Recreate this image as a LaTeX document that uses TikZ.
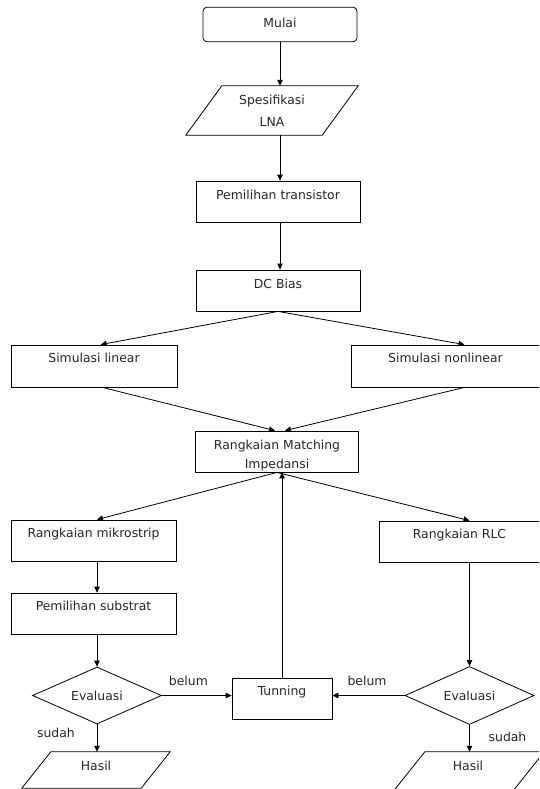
\documentclass[tikz,border=0pt]{standalone}
\usepackage{fontspec}
\setmainfont{DejaVu Sans}
\usetikzlibrary{arrows.meta,calc,shapes.geometric}
\begin{document}
\begin{tikzpicture}[x=1pt,y=-1pt,
  every node/.style={font=\fontsize{12.4}{14}\selectfont, text=black!85},
  ln/.style={draw=black, line width=0.8pt},
  arr/.style={ln, -{Triangle[length=6pt,width=5.5pt]}},
  box/.style={draw=black, line width=0.8pt, inner xsep=2pt, inner ysep=0pt,
              text height=18pt, text depth=23pt, minimum height=41pt},
  plain/.style={inner sep=0pt},
  dia/.style={draw=black, line width=0.8pt, diamond, aspect=2.3, inner sep=0pt},
  lbl/.style={inner sep=0pt, anchor=center}
]
\useasboundingbox (0,0) rectangle (539,789);
\clip (0,0) rectangle (539,789);

% nodes
\node[draw=black, line width=0.8pt, rounded corners=4pt, inner sep=0pt,
      minimum width=154pt, text height=20pt, text depth=14.5pt] (mulai) at (280,24.5) {Mulai};
\node[plain, minimum width=136pt, minimum height=49pt, align=center,
      font=\fontsize{12.4}{22}\selectfont] (spec) at (272,110.5) {Spesifikasi\\LNA};
\node[box, minimum width=164pt] (pem) at (278,201.5) {Pemilihan transistor};
\node[box, minimum width=164pt] (dc) at (278,290.5) {DC Bias};
\node[box, minimum width=166pt, text height=17pt, text depth=25pt] (simlin) at (94,366) {Simulasi linear};
\node[box, minimum width=189pt, text height=17pt, text depth=25pt] (simnl) at (445.5,366) {Simulasi nonlinear};
\node[draw=black, line width=0.8pt, minimum width=163pt, minimum height=41pt, inner sep=0pt,
      align=center, font=\fontsize{12.4}{19}\selectfont] (match) at (277,451.5)
      {\rule{0pt}{17pt}Rangkaian Matching\\Impedansi};
\node[box, minimum width=165pt, text height=17pt, text depth=24pt] (mikro) at (93.5,540.5) {Rangkaian mikrostrip};
\node[box, minimum width=161pt, text height=17.5pt, text depth=23.5pt] (rlc) at (459.5,541.5) {Rangkaian RLC};
\node[box, minimum width=165pt, text height=17.5pt, text depth=23.5pt] (subs) at (93.5,613.5) {Pemilihan substrat};
\node[box, minimum width=100pt, text height=17.5pt, text depth=23.5pt] (tun) at (282,698.5) {Tunning};
\node[dia, minimum width=129pt, minimum height=57pt] (evalL) at (97,695.5) {Evaluasi};
\node[dia, minimum width=129pt, minimum height=58pt] (evalR) at (469.5,695.5) {Evaluasi};
\node[plain, minimum width=119pt, text height=18pt, text depth=18pt] (hasilL) at (96,770) {Hasil};
\node[plain, minimum width=119pt, text height=18pt, text depth=23pt] (hasilR) at (468,772.5) {Hasil};

% parallelograms
\draw[ln] ($(spec.north west)+(18,0)$) -- ($(spec.north east)+(18,0)$)
       -- ($(spec.south east)+(-18,0)$) -- ($(spec.south west)+(-18,0)$) -- cycle;
\draw[ln] ($(hasilL.north west)+(14.5,0)$) -- ($(hasilL.north east)+(14.5,0)$)
       -- ($(hasilL.south east)+(-14.5,0)$) -- ($(hasilL.south west)+(-14.5,0)$) -- cycle;
\draw[ln] ($(hasilR.north west)+(16.5,0)$) -- ($(hasilR.north east)+(16.5,0)$)
       -- ($(hasilR.south east)+(-16.5,0)$) -- ($(hasilR.south west)+(-16.5,0)$) -- cycle;

% connectors
\draw[arr] (mulai.south) -- (mulai.south |- spec.north);
\draw[arr] (mulai.south |- spec.south) -- (mulai.south |- pem.north);
\draw[arr] (mulai.south |- pem.south) -- (mulai.south |- dc.north);
\draw[arr] (dc.south) -- ($(simlin.north west)!0.54!(simlin.north east)$);
\draw[arr] (dc.south) -- ($(simnl.north west)!0.6!(simnl.north east)$);
\draw[arr] ($(simlin.south west)!0.55!(simlin.south east)$) -- ([xshift=-2pt]match.north);
\draw[arr] ($(simnl.south west)!0.6!(simnl.south east)$) -- ([xshift=8pt]match.north);
\draw[arr] (match.south) -- (evalL.north |- mikro.north);
\draw[arr] (match.south) -- (evalR.north |- rlc.north);
\draw[arr] (evalL.north |- mikro.south) -- (evalL.north |- subs.north);
\draw[arr] (evalL.north |- subs.south) -- (evalL.north);
\draw[arr] (evalR.north |- rlc.south) -- (evalR.north);
\draw[arr] (evalL.east) -- node[lbl, pos=0.38, yshift=15pt] {belum} (evalL.east -| tun.west);
\draw[arr] (evalR.west) -- node[lbl, pos=0.52, yshift=15pt] {belum} (evalR.west -| tun.east);
\draw[arr] (tun.north) -- (tun.north |- match.south);
\draw[arr] (evalL.south) -- node[lbl, pos=0.32, xshift=-41pt] {sudah} (evalL.south |- hasilL.north);
\draw[arr] (evalR.south) -- node[lbl, pos=0.46, xshift=38pt] {sudah} (evalR.south |- hasilR.north);
\end{tikzpicture}
\end{document}
